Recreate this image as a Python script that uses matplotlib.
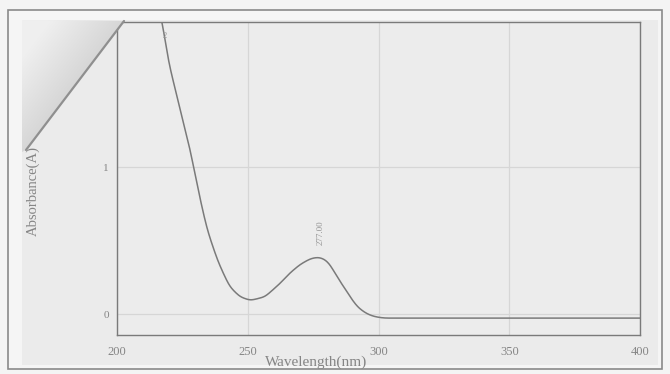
import matplotlib
matplotlib.use('Agg')
import matplotlib.pyplot as plt
from matplotlib.patches import Polygon, Rectangle
import numpy as np

# absorbance spectrum
wavelength = [215, 217.3, 219.5, 223.3, 228, 231, 234.4, 238.6, 243, 247, 251,
              256.6, 262.3, 266, 270, 274, 277, 279.5, 281.5, 284, 287, 289.5, 292,
              295, 297.5, 300, 302.5, 310, 330, 350, 370, 400]
absorbance = [2.15, 2.0, 1.73, 1.46, 1.12, 0.85, 0.58, 0.36, 0.19, 0.12, 0.095,
              0.12, 0.21, 0.28, 0.34, 0.38, 0.39, 0.375, 0.34, 0.26, 0.18, 0.11, 0.05,
              0.01, -0.01, -0.02, -0.025, -0.025, -0.025, -0.025, -0.025, -0.025]
peak_nm = 277.00
xticks = [200, 250, 300, 350, 400]
yticks = [0, 1]

plt.rcParams['font.family'] = ['Liberation Serif', 'DejaVu Serif']

W, H = 670, 374
fig = plt.figure(figsize=(6.7, 3.74), dpi=100)
fig.patch.set_facecolor('#f4f4f4')


def fx(px):
    return px / W


def fy(py):
    return 1 - py / H


# outer frame and the paper inside it
fig.patches.append(Rectangle((fx(8), fy(369)), fx(654), 359 / H, transform=fig.transFigure,
                             facecolor='#f5f5f5', edgecolor='#8a8a8a', lw=1.2, zorder=-2))
fig.patches.append(Rectangle((fx(22), fy(365)), fx(636), 345 / H, transform=fig.transFigure,
                             facecolor='#ebebeb', edgecolor='none', zorder=-1))

ax = fig.add_axes([fx(117), fy(335), 523 / W, 313 / H])
ax.set_facecolor('#ececec')

# smooth the hand-read points for drawing
xs = np.linspace(wavelength[0], wavelength[-1], 1200)
ys = np.interp(xs, wavelength, absorbance)
g = np.exp(-0.5 * (np.arange(-20, 21) / 7.0) ** 2)
g /= g.sum()
ys_s = np.convolve(np.pad(ys, 20, mode='edge'), g, mode='valid')
ax.plot(xs, ys_s, color='#7a7a7a', lw=1.1)

ax.set_xlim(200, 400)
ax.set_ylim(-0.14, 1.99)
ax.set_xticks(xticks)
ax.set_yticks(yticks)
ax.set_xticklabels([str(t) for t in xticks], fontsize=9, color='#858585')
ax.set_yticklabels([str(t) for t in yticks], fontsize=8, color='#858585')
ax.tick_params(axis='x', length=0, pad=8)
ax.tick_params(axis='y', length=0, pad=6)
ax.grid(True, color='#d6d6d6', lw=0.9)
for s in ax.spines.values():
    s.set_color('#7a7a7a')
    s.set_linewidth(1.0)

ax.set_xlabel('Wavelength(nm)', fontsize=11, color='#858585')
ax.xaxis.set_label_coords(0.38, -0.066)
ax.set_ylabel('Absorbance(A)', fontsize=10.5, color='#858585')
ax.yaxis.set_label_coords(-0.148, 0.46)

# peak marker label
ax.text(peak_nm + 0.8, 0.47, '%.2f' % peak_nm, rotation=90, fontsize=6.5, color='#959595',
        ha='center', va='bottom')
ax.text(218.3, 1.92, '2', fontsize=6, color='#959595', ha='center', va='top')

# folded corner shadow at top left
corner = Polygon([(fx(22), fy(20)), (fx(124), fy(21)), (fx(26), fy(150)), (fx(22), fy(152))],
                 closed=True, transform=fig.transFigure, facecolor='none',
                 edgecolor='none', zorder=5)
fig.patches.append(corner)
ov = fig.add_axes([0, 0, 1, 1], zorder=4)
ov.set_axis_off()
ov.set_xlim(0, W)
ov.set_ylim(H, 0)
px, py = np.meshgrid(np.arange(W) + 0.5, np.arange(H) + 0.5)
# distance from the fold line, darker close to it
lx, ly = 124 - 26, 21 - 150
dist = np.abs((px - 26) * ly - (py - 150) * lx) / np.hypot(lx, ly)
shade = np.clip(0.84 + 0.10 * dist / 60, 0.84, 0.94)
img = np.dstack([shade, shade, shade])
im = ov.imshow(img, extent=(0, W, H, 0), interpolation='bilinear', zorder=4)
im.set_clip_path(corner)
ov.plot([26, 124], [150, 21], color='#8f8f8f', lw=1.6, zorder=6, solid_capstyle='round')

fig.savefig('out.png', dpi=100, facecolor=fig.get_facecolor())
